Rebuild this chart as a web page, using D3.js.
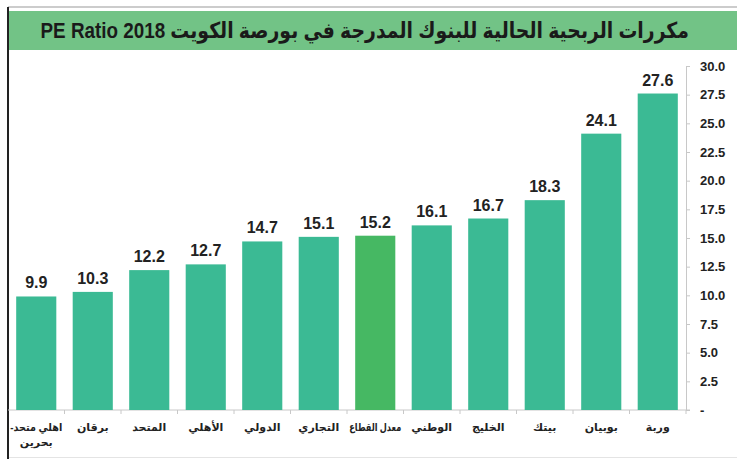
<!DOCTYPE html>
<html>
<head>
<meta charset="utf-8">
<script src="https://cdn.jsdelivr.net/npm/d3@7"></script>
<style>
  body { margin: 0; background: #fff; }
  svg text { font-family: "Liberation Sans", Arial, "DejaVu Sans", sans-serif; }
</style>
</head>
<body>
<div id="chart"></div>
<script>
// bank names, left to right
const banks = ["اهلي متحد-|بحرين", "برقان", "المتحد", "الأهلي", "الدولي", "التجاري",
    "معدل القطاع", "الوطني", "الخليج", "بيتك", "بوبيان", "وربة"];
const peValues = [9.9, 10.3, 12.2, 12.7, 14.7, 15.1, 15.2, 16.1, 16.7, 18.3, 24.1, 27.6];
const sectorAverage = "معدل القطاع";
const yTicks = [0, 2.5, 5, 7.5, 10, 12.5, 15, 17.5, 20, 22.5, 25, 27.5, 30];
const title = "مكررات الربحية الحالية للبنوك المدرجة في بورصة الكويت PE Ratio 2018";

const width = 737, height = 459;

const svg = d3.select("#chart")
    .append("svg")
    .attr("width", width)
    .attr("height", height);

// frame
svg.append("line").attr("x1", 8).attr("x2", width).attr("y1", 7).attr("y2", 7)
    .attr("stroke", "#999").attr("stroke-width", 1);
svg.append("line").attr("x1", 8).attr("x2", width).attr("y1", 457.5).attr("y2", 457.5)
    .attr("stroke", "#e4e4e4").attr("stroke-width", 1);

// title band
svg.append("rect")
    .attr("x", 8).attr("y", 11)
    .attr("width", width - 8).attr("height", 39)
    .attr("fill", "#72c386");

// title is squeezed horizontally to the width it has in the original (x 40..689)
const titleG = svg.append("g");
const titleText = titleG.append("text")
    .attr("x", 0).attr("y", 38)
    .attr("direction", "rtl")
    .attr("text-anchor", "start")
    .attr("font-size", 22)
    .attr("font-weight", "bold")
    .attr("fill", "#1a1a1a")
    .text(title);
const titleLen = titleText.node().getComputedTextLength();
const sx = Math.min(1, 649 / titleLen);
titleG.attr("transform", `translate(689,0) scale(${sx},1)`);

svg.append("line").attr("x1", 8).attr("x2", 8).attr("y1", 7).attr("y2", height)
    .attr("stroke", "#222").attr("stroke-width", 2);

const x = d3.scaleBand()
    .domain(banks)
    .range([8, 686])
    .paddingInner(0.29)
    .paddingOuter(0.145);

const y = d3.scaleLinear()
    .domain([0, 30])
    .range([410, 66]);

// y axis on the right
const yAxis = svg.append("g")
    .attr("transform", "translate(686,0)")
    .call(d3.axisRight(y).tickValues(yTicks).tickSize(4).tickPadding(10)
        .tickFormat(d => d === 0 ? "-" : d.toFixed(1)));
yAxis.select(".domain").attr("stroke", "#c8c8c8");
yAxis.selectAll(".tick line").attr("stroke", "#c8c8c8");
yAxis.selectAll(".tick text")
    .attr("font-size", 13)
    .attr("font-weight", "bold")
    .attr("fill", "#222");

// x baseline with separators
const xAxis = svg.append("g")
    .attr("transform", "translate(0,410)");
xAxis.append("line").attr("x1", 8).attr("x2", 690)
    .attr("stroke", "#c8c8c8");
const step = x.step();
xAxis.selectAll(".sep")
    .data(d3.range(1, banks.length + 1))
    .enter().append("line")
    .attr("class", "sep")
    .attr("x1", i => 8 + i * step)
    .attr("x2", i => 8 + i * step)
    .attr("y1", 0).attr("y2", 4)
    .attr("stroke", "#c8c8c8");

// bars
svg.selectAll(".bar")
    .data(banks)
    .enter().append("rect")
    .attr("class", "bar")
    .attr("x", d => x(d))
    .attr("width", x.bandwidth())
    .attr("y", (d, i) => y(peValues[i]))
    .attr("height", (d, i) => y(0) - y(peValues[i]))
    .attr("fill", d => d === sectorAverage ? "#46b863" : "#3bba94");

// value labels
svg.selectAll(".val")
    .data(banks)
    .enter().append("text")
    .attr("class", "val")
    .attr("x", d => x(d) + x.bandwidth() / 2)
    .attr("y", (d, i) => y(peValues[i]) - 8)
    .attr("text-anchor", "middle")
    .attr("font-size", 16)
    .attr("font-weight", "bold")
    .attr("fill", "#222")
    .text((d, i) => peValues[i].toFixed(1));

// category labels, each line squeezed if wider than its slot
banks.forEach(d => {
    const cx = x(d) + x.bandwidth() / 2;
    d.split("|").forEach((line, j) => {
        const g = svg.append("g");
        const t = g.append("text")
            .attr("x", 0).attr("y", 431 + j * 15)
            .attr("text-anchor", "middle")
            .attr("direction", "rtl")
            .attr("font-size", 11)
            .attr("font-weight", "bold")
            .attr("fill", "#222")
            .text(line);
        const s = Math.min(1, 52 / t.node().getComputedTextLength());
        g.attr("transform", `translate(${cx},0) scale(${s},1)`);
    });
});
</script>
</body>
</html>
